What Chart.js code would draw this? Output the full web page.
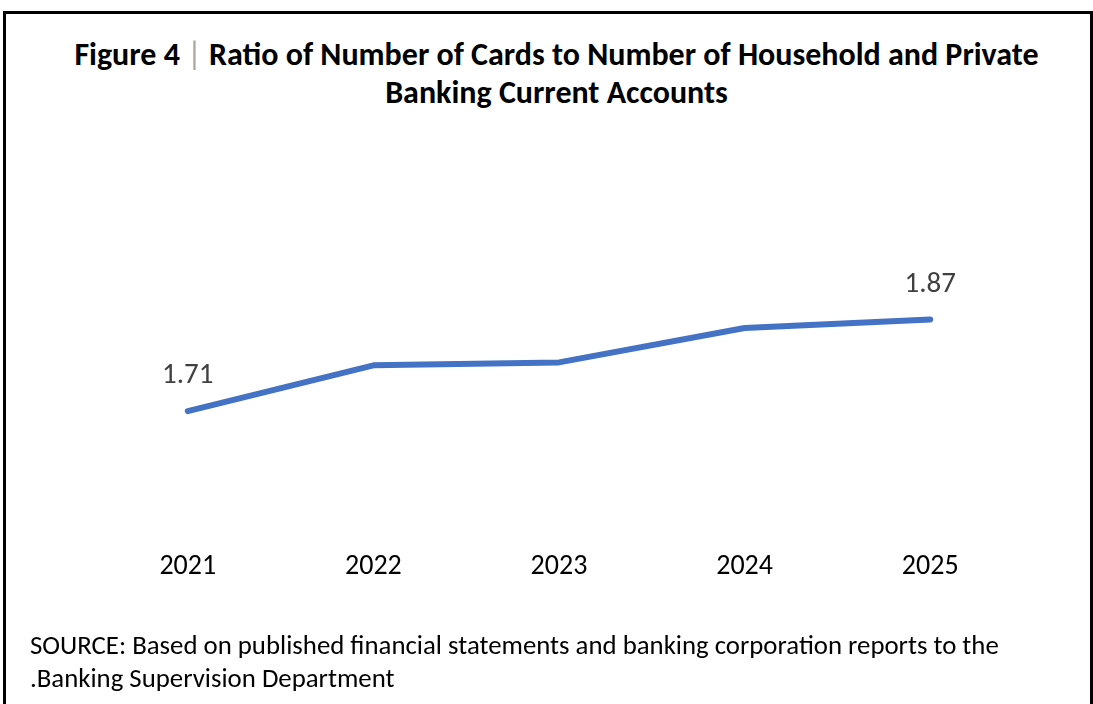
<!DOCTYPE html>
<html>
<head>
<meta charset="utf-8">
<script src="https://cdn.jsdelivr.net/npm/chart.js@4"></script>
<style>
  html, body { margin: 0; padding: 0; background: #fff; }
  body { width: 1093px; height: 704px; position: relative; overflow: hidden;
         font-family: 'Carlito', 'Liberation Sans Narrow', 'Open Sans', sans-serif; }
  #frame { position: absolute; left: 3px; top: 11px; width: 1084px; height: 720px;
           border: 3px solid #000; border-bottom: none; }
  #title { position: absolute; left: 0; width: 1113px; top: 36px; text-align: center;
           font-weight: bold; font-size: 32px; line-height: 38px; color: #000; }
  #title .bar { color: #a6a6a6; font-weight: normal; }
  #source { position: absolute; left: 30px; top: 628px; font-size: 26.8px; line-height: 33px; color: #000; }
  #wrap { position: absolute; left: 0; top: 0; width: 1093px; height: 704px; }
</style>
</head>
<body>
<div id="frame"></div>
<div id="title">Figure 4 <span class="bar">|</span> Ratio of Number of Cards to Number of Household and Private<br>Banking Current Accounts</div>
<div id="wrap"><canvas id="chart" width="1093" height="704"></canvas></div>
<div id="source">SOURCE: Based on published financial statements and banking corporation reports to the<br>.Banking Supervision Department</div>
<script>
// DATA
const years = ['2021', '2022', '2023', '2024', '2025'];
const ratio = [1.71, 1.79, 1.795, 1.855, 1.87];
const shownLabels = ['1.71', '', '', '', '1.87'];

const FONT = "'Carlito', 'Liberation Sans Narrow', 'Open Sans', sans-serif";

// labels above first and last point
const pointLabels = {
  id: 'pointLabels',
  afterDatasetsDraw(chart) {
    const ctx = chart.ctx;
    const meta = chart.getDatasetMeta(0);
    ctx.save();
    ctx.font = '29px ' + FONT;
    ctx.fillStyle = '#404040';
    ctx.textAlign = 'center';
    ctx.textBaseline = 'middle';
    meta.data.forEach((pt, i) => {
      if (shownLabels[i]) ctx.fillText(shownLabels[i], pt.x, pt.y - 35);
    });
    ctx.restore();
  }
};

new Chart(document.getElementById('chart'), {
  type: 'line',
  data: {
    labels: years,
    datasets: [{
      data: ratio,
      borderColor: '#4472C4',
      borderWidth: 6,
      borderCapStyle: 'round',
      borderJoinStyle: 'round',
      pointRadius: 0,
      tension: 0,
      fill: false
    }]
  },
  options: {
    responsive: false,
    animation: false,
    layout: { padding: { left: 95, right: 70, top: 245, bottom: 109 } },
    plugins: { legend: { display: false }, tooltip: { enabled: false } },
    scales: {
      x: {
        offset: true,
        grid: { display: false },
        border: { display: false },
        ticks: { color: '#000', font: { family: FONT, size: 28 }, padding: 11 }
      },
      y: {
        display: false,
        min: 1.5,
        max: 2.0
      }
    }
  },
  plugins: [pointLabels]
});
</script>
</body>
</html>
